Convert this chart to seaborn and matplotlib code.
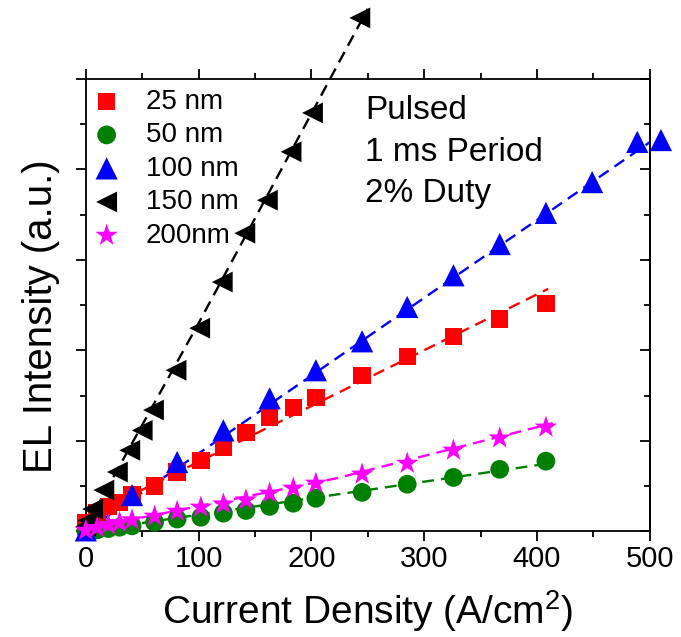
import numpy as np
import matplotlib
matplotlib.use("Agg")
import matplotlib.pyplot as plt
import seaborn as sns

sns.set_style("ticks")
plt.rcParams['font.family'] = ['Liberation Sans', 'DejaVu Sans']
plt.rcParams['mathtext.fontset'] = 'custom'
plt.rcParams['mathtext.rm'] = 'Liberation Sans'
plt.rcParams['text.color'] = 'black'
plt.rcParams['axes.labelcolor'] = 'black'
plt.rcParams['axes.edgecolor'] = 'black'
plt.rcParams['xtick.color'] = 'black'
plt.rcParams['ytick.color'] = 'black'

# measured points (current density A/cm2, EL intensity a.u.)
x_25 = [0, 10, 20, 30, 41, 61, 81, 102, 122, 142, 163, 184, 204, 245, 285, 326, 367, 408]
y_25 = [0.2, 0.40, 0.55, 0.64, 0.80, 1.00, 1.31, 1.57, 1.86, 2.19, 2.52, 2.74, 2.96, 3.45, 3.87, 4.31, 4.69, 5.04]

x_50 = [0, 10, 20, 30, 41, 61, 81, 102, 122, 142, 163, 184, 204, 245, 285, 326, 367, 408]
y_50 = [0.0, 0.03, 0.06, 0.09, 0.12, 0.20, 0.27, 0.31, 0.40, 0.46, 0.55, 0.62, 0.73, 0.86, 1.04, 1.19, 1.37, 1.55]

x_100 = [0, 41, 81, 122, 163, 204, 245, 285, 326, 367, 408, 449, 489, 510]
y_100 = [0.02, 0.80, 1.53, 2.23, 2.94, 3.56, 4.20, 4.96, 5.66, 6.35, 7.04, 7.72, 8.61, 8.65]

x_150 = [0, 2, 6, 16, 28, 39, 50, 60, 80, 101, 121, 141, 161, 182, 201, 243]
y_150 = [0.11, 0.24, 0.49, 0.91, 1.31, 1.79, 2.23, 2.68, 3.56, 4.49, 5.51, 6.59, 7.32, 8.39, 9.25, 11.35]

x_200 = [0, 10, 20, 30, 41, 61, 81, 102, 122, 142, 163, 184, 204, 245, 285, 326, 367, 408]
y_200 = [0.02, 0.08, 0.14, 0.19, 0.25, 0.33, 0.44, 0.53, 0.60, 0.69, 0.84, 0.95, 1.06, 1.26, 1.50, 1.79, 2.06, 2.30]

# dashed fit lines
fit_x_25 = [0, 410]
fit_y_25 = [0.3, 5.36]
fit_x_50 = [0, 405]
fit_y_50 = [0.0, 1.48]
fit_x_100 = [0, 500]
fit_y_100 = [0.0, 8.6]
fit_x_150 = [0, 100, 250]
fit_y_150 = [0.1, 4.6, 11.55]
fit_x_200 = [0, 222, 414]
fit_y_200 = [0.05, 1.17, 2.39]

labels = ["25 nm", "50 nm", "100 nm", "150 nm", "200nm"]

fig = plt.figure(figsize=(6.81, 6.37), dpi=100)
ax = fig.add_axes([0.126, 0.166, 0.828, 0.710])

dash = (0, (5, 3))
ax.plot(fit_x_25, fit_y_25, color="red", lw=1.7, ls=dash, clip_on=False, zorder=2)
ax.plot(fit_x_50, fit_y_50, color="green", lw=1.7, ls=dash, clip_on=False, zorder=2)
ax.plot(fit_x_100, fit_y_100, color="blue", lw=1.7, ls=dash, clip_on=False, zorder=2)
ax.plot(fit_x_150, fit_y_150, color="black", lw=1.7, ls=dash, clip_on=False, zorder=2)
ax.plot(fit_x_200, fit_y_200, color="magenta", lw=1.7, ls=dash, clip_on=False, zorder=2)

sns.scatterplot(x=x_25, y=y_25, marker="s", s=12.5**2, color="red", edgecolor="none",
                label=labels[0], ax=ax, clip_on=False, zorder=3)
sns.scatterplot(x=x_50, y=y_50, marker="o", s=13.5**2, color="green", edgecolor="none",
                label=labels[1], ax=ax, clip_on=False, zorder=3)
sns.scatterplot(x=x_100, y=y_100, marker="^", s=16**2, color="blue", edgecolor="none",
                label=labels[2], ax=ax, clip_on=False, zorder=4)
sns.scatterplot(x=x_150, y=y_150, marker="<", s=15**2, color="black", edgecolor="none",
                label=labels[3], ax=ax, clip_on=False, zorder=4)
sns.scatterplot(x=x_200, y=y_200, marker="*", s=17**2, color="magenta", edgecolor="none",
                label=labels[4], ax=ax, clip_on=False, zorder=5)

ax.set_xlim(0, 500)
ax.set_ylim(0, 10)
ax.set_xticks(np.arange(0, 501, 100))
ax.set_xticks(np.arange(50, 500, 100), minor=True)
ax.set_yticks(np.arange(0, 11, 2))
ax.set_yticks(np.arange(1, 10, 2), minor=True)
ax.set_yticklabels([])

for s in ax.spines.values():
    s.set_visible(True)
    s.set_linewidth(1.3)
    s.set_color("black")

ax.tick_params(axis="x", which="both", direction="out", top=True, bottom=True,
               labelsize=21, width=1.3, pad=3)
ax.tick_params(axis="x", which="major", length=7)
ax.tick_params(axis="x", which="minor", length=4.5)
ax.tick_params(axis="y", which="both", direction="out", left=True, right=False, width=1.3)
ax.tick_params(axis="y", which="major", length=7)
ax.tick_params(axis="y", which="minor", length=4)

# right side ticks point inward
sec = ax.secondary_yaxis("right")
sec.set_yticks(np.arange(0, 11, 2))
sec.set_yticks(np.arange(1, 10, 2), minor=True)
sec.set_yticklabels([])
sec.tick_params(which="both", direction="in", width=1.3)
sec.tick_params(which="major", length=7)
sec.tick_params(which="minor", length=4)
sec.spines["right"].set_linewidth(1.3)

ax.set_xlabel("Current Density (A/cm$^2$)", fontsize=28, labelpad=11)
ax.set_ylabel("EL Intensity (a.u.)", fontsize=29)
ax.yaxis.set_label_coords(-0.045, 0.475)

ax.text(0.495, 0.965, "Pulsed\n1 ms Period\n2% Duty", transform=ax.transAxes,
        fontsize=24, va="top", ha="left", linespacing=1.45)

ax.legend(loc="upper left", bbox_to_anchor=(0.0, 1.0), frameon=False, fontsize=20,
          handletextpad=1.0, labelspacing=0.27, borderaxespad=0.1, handlelength=0.8,
          borderpad=0.25)

fig.savefig("out.png", dpi=100)
